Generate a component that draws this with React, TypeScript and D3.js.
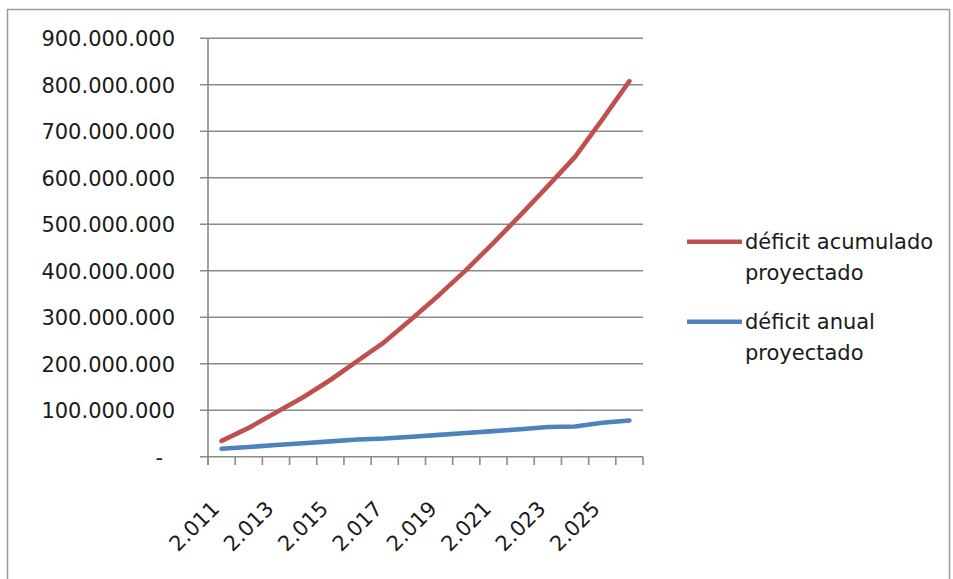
import React from "react";
import * as d3 from "d3";

const years = [2011, 2012, 2013, 2014, 2015, 2016, 2017, 2018, 2019, 2020, 2021, 2022, 2023, 2024, 2025, 2026];
const deficitAcumulado = [34e6, 62e6, 95e6, 128e6, 165e6, 206e6, 247e6, 297e6, 348e6, 402e6, 460e6, 520e6, 582e6, 645e6, 725e6, 808e6];
const deficitAnual = [17e6, 21e6, 25e6, 29e6, 33e6, 37e6, 39e6, 43e6, 47e6, 51e6, 55e6, 59e6, 64e6, 65e6, 73e6, 78e6];
const yTicks = [0, 100e6, 200e6, 300e6, 400e6, 500e6, 600e6, 700e6, 800e6, 900e6];
const seriesNames = [["déficit acumulado", "proyectado"], ["déficit anual", "proyectado"]];
const seriesColors = ["#C0504D", "#4F81BD"];

const W = 953;
const H = 579;
const FONT = "'DejaVu Sans', sans-serif";

export default function App() {
  const locale = d3.formatLocale({ decimal: ",", thousands: ".", grouping: [3], currency: ["", ""] });
  const fmt = locale.format(",");
  const x = d3.scaleBand<number>().domain(years).range([208, 643]).paddingInner(0).paddingOuter(0);
  const y = d3.scaleLinear().domain([0, 900e6]).range([456.7, 38.3]);
  const cx = (yr: number) => (x(yr) as number) + x.bandwidth() / 2;
  const line = d3
    .line<number>()
    .x((_, i) => cx(years[i]))
    .y((d) => y(d));
  const series = [deficitAcumulado, deficitAnual];
  const boundaries = years.map((yr) => x(yr) as number).concat([643]);

  return (
    <svg width={W} height={H} style={{ position: "absolute", left: 0, top: 0, background: "#fff" }}>
      <rect x={7.5} y={9.5} width={942} height={620} fill="#fff" stroke="#9a9a9a" strokeWidth={1.5} />
      {yTicks.map((t) => (
        <g key={t}>
          <line x1={200} x2={643} y1={y(t)} y2={y(t)} stroke="#8a8a8a" strokeWidth={1.6} />
          <text
            x={t === 0 ? 163 : 175}
            y={y(t) + 8}
            textAnchor="end"
            fontFamily={FONT}
            fontSize={21}
            fill="#1a1a1a"
          >
            {t === 0 ? "-" : fmt(t)}
          </text>
        </g>
      ))}
      <line x1={208} x2={208} y1={38.3} y2={465} stroke="#8a8a8a" strokeWidth={1.6} />
      {boundaries.map((bx, i) => (
        <line key={i} x1={bx} x2={bx} y1={456.7} y2={465} stroke="#8a8a8a" strokeWidth={1.6} />
      ))}
      {years.map((yr, i) =>
        i % 2 === 0 ? (
          <text
            key={yr}
            transform={`translate(${cx(yr) - 1},${510}) rotate(-45)`}
            textAnchor="end"
            fontFamily={FONT}
            fontSize={21}
            fill="#1a1a1a"
          >
            {fmt(yr)}
          </text>
        ) : null
      )}
      {series.map((s, k) => (
        <path
          key={k}
          d={line(s) as string}
          fill="none"
          stroke={seriesColors[k]}
          strokeWidth={4.6}
          strokeLinecap="round"
          strokeLinejoin="round"
        />
      ))}
      {seriesNames.map((names, k) => {
        const ly = 241.7 + k * 80;
        return (
          <g key={k}>
            <line x1={687} x2={742} y1={ly} y2={ly} stroke={seriesColors[k]} strokeWidth={4.6} />
            <text x={745} y={ly + 7} fontFamily={FONT} fontSize={21} fill="#1a1a1a">
              {names[0]}
            </text>
            <text x={745} y={ly + 38.5} fontFamily={FONT} fontSize={21} fill="#1a1a1a">
              {names[1]}
            </text>
          </g>
        );
      })}
    </svg>
  );
}
